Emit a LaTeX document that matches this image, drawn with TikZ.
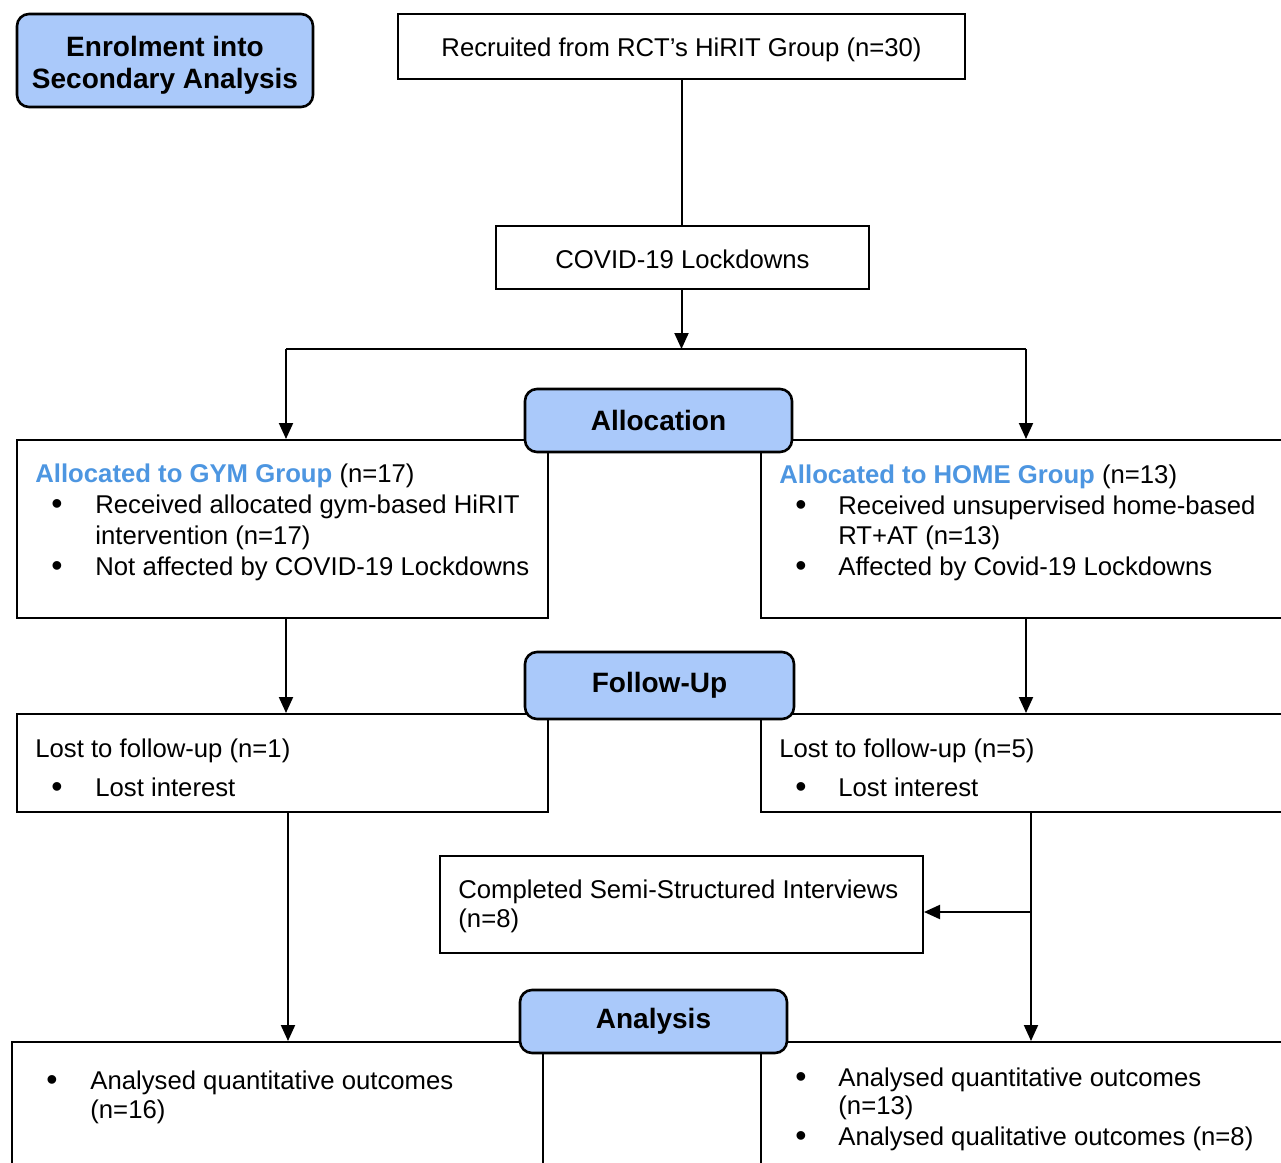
\documentclass[tikz,border=0pt]{standalone}
\usepackage{fontspec}
\setmainfont{Liberation Sans}
\usetikzlibrary{arrows.meta,positioning}
\definecolor{stageblue}{RGB}{170,201,250}
\definecolor{groupblue}{RGB}{77,150,225}

\begin{document}
\begin{tikzpicture}[x=0.5pt,y=-0.5pt,
  box/.style={draw,line width=1pt,fill=white,inner sep=0pt},
  stage/.style={draw,line width=1.3pt,fill=stageblue,rounded corners=6pt,inner sep=0pt,align=center,font=\fontsize{14}{16}\selectfont\bfseries},
  txt/.style={anchor=west,inner sep=0pt,text height=12pt,text depth=2.5pt,font=\fontsize{12.85}{14}\selectfont},
  dot/.style={inner sep=0pt,yshift=-1.5pt,font=\fontsize{16}{16}\selectfont},
  arr/.style={-{Triangle[length=8pt,width=7pt]},line width=1pt}]
  \useasboundingbox (0,0) rectangle (1281,1163);
  \clip (0,0) rectangle (1281,1163);
  % boxes
  \node[stage,minimum width=148pt,minimum height=46.5pt] (enrol) at (165,60.5) {};
  \node[box,minimum width=283.5pt,minimum height=32.5pt] (recruit) at (681.5,46.5) {};
  \node[box,minimum width=186.5pt,minimum height=31.5pt] (covid) at (682.5,257.5) {};
  \node[box,minimum width=265.5pt,minimum height=89pt] (gym) at (282.5,529) {};
  \node[box,minimum width=269.5pt,minimum height=89pt] (home) at (1030.5,529) {};
  \node[box,minimum width=265.5pt,minimum height=49pt] (lostgym) at (282.5,763) {};
  \node[box,minimum width=269.5pt,minimum height=49pt] (losthome) at (1030.5,763) {};
  \node[box,minimum width=241.5pt,minimum height=48.5pt] (interv) at (681.5,904.5) {};
  \node[box,minimum width=265.5pt,minimum height=79pt] (angym) at (277.5,1121) {};
  \node[box,minimum width=269.5pt,minimum height=79pt] (anhome) at (1030.5,1121) {};
  \node[stage,minimum width=133.5pt,minimum height=31.5pt] (alloc) at (658.5,420.5) {Allocation};
  \node[stage,minimum width=134.5pt,minimum height=33.5pt] (follow) at (659.5,685.5) {Follow-Up};
  \node[stage,minimum width=133.5pt,minimum height=31.5pt] (analysis) at (653.5,1021.5) {Analysis};
  % texts
  \node[inner sep=0pt,align=center,font=\fontsize{14}{16}\selectfont\bfseries] (enroltext) at (165,65) {Enrolment into\\Secondary Analysis};
  \node[txt,anchor=center] (recruittext) at (681.5,47) {Recruited from RCT’s HiRIT Group (n=30)};
  \node[txt,anchor=center] (covidtext) at (682.5,259) {COVID-19 Lockdowns};
  \node[txt] (gymhead) at (35,473) {{\color{groupblue}\bfseries Allocated to GYM Group} (n=17)};
  \node[dot] (gymdotA) at (57,504) {\textbullet};
  \node[txt] (gymitemA) at (95,504) {Received allocated gym-based HiRIT};
  \node[txt] (gymitemB) at (95,535) {intervention (n=17)};
  \node[dot] (gymdotC) at (57,566) {\textbullet};
  \node[txt] (gymitemC) at (95,566) {Not affected by COVID-19 Lockdowns};
  \node[txt] (homehead) at (779,474) {{\color{groupblue}\bfseries Allocated to HOME Group} (n=13)};
  \node[dot] (homedotA) at (801,505) {\textbullet};
  \node[txt] (homeitemA) at (838,505) {Received unsupervised home-based};
  \node[txt] (homeitemB) at (838,535) {RT+AT (n=13)};
  \node[dot] (homedotC) at (801,566) {\textbullet};
  \node[txt] (homeitemC) at (838,566) {Affected by Covid-19 Lockdowns};
  \node[txt] (lostgymhead) at (35,748) {Lost to follow-up (n=1)};
  \node[dot] (lostgymdot) at (57,787) {\textbullet};
  \node[txt] (lostgymitem) at (95,787) {Lost interest};
  \node[txt] (losthomehead) at (779,748) {Lost to follow-up (n=5)};
  \node[dot] (losthomedot) at (801,787) {\textbullet};
  \node[txt] (losthomeitem) at (838,787) {Lost interest};
  \node[txt] (intervA) at (458,889) {Completed Semi-Structured Interviews};
  \node[txt] (intervB) at (458,918) {(n=8)};
  \node[dot] (angymdot) at (52,1080) {\textbullet};
  \node[txt] (angymitemA) at (90,1080) {Analysed quantitative outcomes};
  \node[txt] (angymitemB) at (90,1109) {(n=16)};
  \node[dot] (anhomedotA) at (801,1077) {\textbullet};
  \node[txt] (anhomeitemA) at (838,1077) {Analysed quantitative outcomes};
  \node[txt] (anhomeitemB) at (838,1105) {(n=13)};
  \node[dot] (anhomedotC) at (801,1136) {\textbullet};
  \node[txt] (anhomeitemC) at (838,1136) {Analysed qualitative outcomes (n=8)};
  % connectors
  \coordinate (split) at (681.5,349);
  \coordinate (splitL) at (286,349);
  \coordinate (splitR) at (1026,349);
  \coordinate (branch) at (1031,912);
  \draw[line width=1pt] (recruit.south) -- (recruit.south |- covid.north);
  \draw[arr] (covid.south -| split) -- (split);
  \draw[line width=1pt] (splitL) -- (splitR);
  \draw[arr] (splitL) -- (splitL |- gym.north);
  \draw[arr] (splitR) -- (splitR |- home.north);
  \draw[arr] (gym.south -| splitL) -- (lostgym.north -| splitL);
  \draw[arr] (home.south -| splitR) -- (losthome.north -| splitR);
  \draw[arr] (lostgym.south -| 288,0) -- (angym.north -| 288,0);
  \draw[arr] (losthome.south -| branch) -- (anhome.north -| branch);
  \draw[arr] (branch) -- (branch -| interv.east);
\end{tikzpicture}
\end{document}
